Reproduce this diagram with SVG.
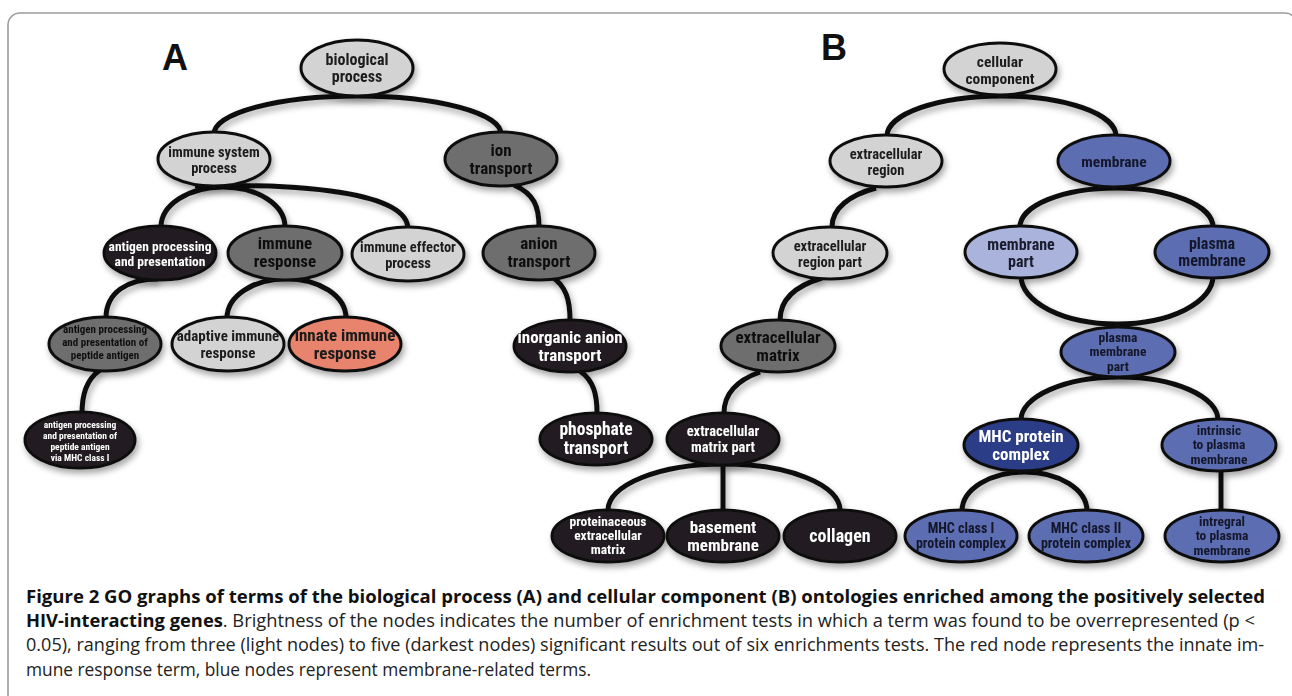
<svg xmlns="http://www.w3.org/2000/svg" width="1292" height="696" viewBox="0 0 1292 696">
<defs>
<filter id="sh" x="-20%" y="-20%" width="140%" height="160%">
<feDropShadow dx="2" dy="4" stdDeviation="3" flood-color="#000" flood-opacity="0.35"/>
</filter>
<style>
.frame{fill:none;stroke:#9c9c9c;stroke-width:1.6}
.node ellipse{stroke:#111;stroke-width:3}
.node text{font-family:"Liberation Sans Narrow","Arial Narrow","Roboto Condensed","DejaVu Sans Condensed",sans-serif;font-weight:bold;text-anchor:middle}
.light ellipse{fill:#d3d3d3}.light text{fill:#1e1e1e}
.mid ellipse{fill:#6e6e6e}.mid text{fill:#111}
.dark ellipse{fill:#231f20}.dark text{fill:#fff}
.red ellipse{fill:#e8836d}.red text{fill:#1a1a1a}
.blue ellipse{fill:#5b6db2}.blue text{fill:#14182a}
.lblue ellipse{fill:#a9b3db}.lblue text{fill:#1a1d2e}
.dblue ellipse{fill:#2b3c86}.dblue text{fill:#fff}
#connectors path{fill:none;stroke:#111;stroke-width:5}
.panel{font-family:"Liberation Sans",Arial,sans-serif;font-weight:bold;font-size:36px;fill:#111}
.cap{font-family:"Open Sans","Noto Sans",sans-serif;font-size:18px;fill:#222}
.cap .b{font-weight:bold;fill:#111}
</style>
</defs>
<rect width="1292" height="696" fill="#fff"/>
<rect class="frame" x="8" y="13" width="1289" height="700" rx="12"/>
<text class="panel" x="162" y="70">A</text>
<text class="panel" x="821" y="60">B</text>

<g id="connectors" filter="url(#sh)">
<path d="M214 134 A143 38 0 0 1 501 134"/>
<path d="M161 227 A62 40 0 0 1 285 227"/>
<path d="M195 186 C300 183 408 192 408 229"/>
<path d="M514 185 C534 194 539 206 539 227"/>
<path d="M552 277 C566 286 570 300 570 320"/>
<path d="M580 371 C594 381 597 395 597 413"/>
<path d="M227 318 A59 39 0 0 1 346 318"/>
<path d="M106 318 C106 292 128 279 158 279"/>
<path d="M100 370 C86 380 82 395 82 414"/>
<path d="M887 136 A114.5 40 0 0 1 1116 136"/>
<path d="M876 188 C850 195 832 208 832 227"/>
<path d="M1020 227 A96.5 39 0 0 1 1213 227"/>
<path d="M1021 276 A96 48 0 0 0 1213 276"/>
<path d="M822 278 C795 286 780 300 780 320"/>
<path d="M760 372 C735 381 724 395 724 413"/>
<path d="M1021 420 A98.5 43 0 0 1 1218 420"/>
<path d="M608 510 A116 46 0 0 1 840 510"/>
<path d="M723 462 L723 510"/>
<path d="M962 511 A62.5 39 0 0 1 1087 511"/>
<path d="M1221 470 L1221 511"/>
</g>

<g id="n_bp" class="node light" filter="url(#sh)"><ellipse cx="357" cy="68" rx="56" ry="28"/><text font-size="16"><tspan x="357" y="65">biological</tspan><tspan x="357" y="82">process</tspan></text></g>
<g id="n_isp" class="node light" filter="url(#sh)"><ellipse cx="214" cy="159" rx="56" ry="27"/><text font-size="14.5"><tspan x="214" y="157">immune system</tspan><tspan x="214" y="173">process</tspan></text></g>
<g id="n_ion" class="node mid" filter="url(#sh)"><ellipse cx="501" cy="159" rx="56" ry="27"/><text font-size="17"><tspan x="501" y="156">ion</tspan><tspan x="501" y="174">transport</tspan></text></g>
<g id="n_app" class="node dark" filter="url(#sh)"><ellipse cx="160" cy="253" rx="56" ry="27"/><text font-size="13.5"><tspan x="160" y="251">antigen processing</tspan><tspan x="160" y="266">and presentation</tspan></text></g>
<g id="n_ir" class="node mid" filter="url(#sh)"><ellipse cx="285" cy="253" rx="57" ry="27"/><text font-size="17"><tspan x="285" y="249">immune</tspan><tspan x="285" y="267">response</tspan></text></g>
<g id="n_iep" class="node light" filter="url(#sh)"><ellipse cx="408" cy="254" rx="56" ry="27"/><text font-size="14.5"><tspan x="408" y="252">immune effector</tspan><tspan x="408" y="268">process</tspan></text></g>
<g id="n_at" class="node mid" filter="url(#sh)"><ellipse cx="539" cy="253" rx="56" ry="27"/><text font-size="17"><tspan x="539" y="249">anion</tspan><tspan x="539" y="267">transport</tspan></text></g>
<g id="n_appa" class="node mid" filter="url(#sh)"><ellipse cx="105" cy="344" rx="56" ry="27"/><text font-size="11" style="fill:#111"><tspan x="105" y="333">antigen processing</tspan><tspan x="105" y="346">and presentation of</tspan><tspan x="105" y="359">peptide antigen</tspan></text></g>
<g id="n_air" class="node light" filter="url(#sh)"><ellipse cx="228" cy="344" rx="56" ry="27"/><text font-size="15"><tspan x="228" y="341">adaptive immune</tspan><tspan x="228" y="358">response</tspan></text></g>
<g id="n_iir" class="node red" filter="url(#sh)"><ellipse cx="345" cy="344" rx="56" ry="27"/><text font-size="17"><tspan x="345" y="341">innate immune</tspan><tspan x="345" y="359">response</tspan></text></g>
<g id="n_inorg" class="node dark" filter="url(#sh)"><ellipse cx="570" cy="346" rx="56" ry="26"/><text font-size="17"><tspan x="570" y="343">inorganic anion</tspan><tspan x="570" y="361">transport</tspan></text></g>
<g id="n_mhc1a" class="node dark" filter="url(#sh)"><ellipse cx="80" cy="440" rx="55" ry="28"/><text font-size="9.5"><tspan x="80" y="428">antigen processing</tspan><tspan x="80" y="439">and presentation of</tspan><tspan x="80" y="450">peptide antigen</tspan><tspan x="80" y="461">via MHC class I</tspan></text></g>
<g id="n_phos" class="node dark" filter="url(#sh)"><ellipse cx="596" cy="439" rx="56" ry="26"/><text font-size="17.5"><tspan x="596" y="435">phosphate</tspan><tspan x="596" y="454">transport</tspan></text></g>

<g id="n_cc" class="node light" filter="url(#sh)"><ellipse cx="1000" cy="69" rx="56" ry="26"/><text font-size="15.5"><tspan x="1000" y="67">cellular</tspan><tspan x="1000" y="84">component</tspan></text></g>
<g id="n_er" class="node light" filter="url(#sh)"><ellipse cx="886" cy="161" rx="56" ry="26"/><text font-size="14.5"><tspan x="886" y="159">extracellular</tspan><tspan x="886" y="175">region</tspan></text></g>
<g id="n_mem" class="node blue" filter="url(#sh)"><ellipse cx="1114" cy="161" rx="56" ry="26"/><text font-size="15.5"><tspan x="1114" y="167">membrane</tspan></text></g>
<g id="n_erp" class="node light" filter="url(#sh)"><ellipse cx="830" cy="253" rx="57" ry="26"/><text font-size="14.5"><tspan x="830" y="251">extracellular</tspan><tspan x="830" y="267">region part</tspan></text></g>
<g id="n_mp" class="node lblue" filter="url(#sh)"><ellipse cx="1021" cy="252" rx="56" ry="26"/><text font-size="16"><tspan x="1021" y="250">membrane</tspan><tspan x="1021" y="267">part</tspan></text></g>
<g id="n_pm" class="node blue" filter="url(#sh)"><ellipse cx="1212" cy="252" rx="57" ry="26"/><text font-size="16"><tspan x="1212" y="249">plasma</tspan><tspan x="1212" y="266">membrane</tspan></text></g>
<g id="n_em" class="node mid" filter="url(#sh)"><ellipse cx="778" cy="346" rx="57" ry="26"/><text font-size="17"><tspan x="778" y="343">extracellular</tspan><tspan x="778" y="361">matrix</tspan></text></g>
<g id="n_pmp" class="node blue" filter="url(#sh)"><ellipse cx="1118" cy="352" rx="57" ry="25"/><text font-size="13.5"><tspan x="1118" y="342">plasma</tspan><tspan x="1118" y="356">membrane</tspan><tspan x="1118" y="371">part</tspan></text></g>
<g id="n_emp" class="node dark" filter="url(#sh)"><ellipse cx="723" cy="439" rx="56" ry="26"/><text font-size="14.5"><tspan x="723" y="436">extracellular</tspan><tspan x="723" y="452">matrix part</tspan></text></g>
<g id="n_mhcpc" class="node dblue" filter="url(#sh)"><ellipse cx="1021" cy="445" rx="57" ry="26"/><text font-size="17"><tspan x="1021" y="442">MHC protein</tspan><tspan x="1021" y="460">complex</tspan></text></g>
<g id="n_ipm" class="node blue" filter="url(#sh)"><ellipse cx="1219" cy="445" rx="57" ry="26"/><text font-size="13.5"><tspan x="1219" y="435">intrinsic</tspan><tspan x="1219" y="449">to plasma</tspan><tspan x="1219" y="464">membrane</tspan></text></g>
<g id="n_pem" class="node dark" filter="url(#sh)"><ellipse cx="608" cy="536" rx="56" ry="26"/><text font-size="13.5"><tspan x="608" y="526">proteinaceous</tspan><tspan x="608" y="540">extracellular</tspan><tspan x="608" y="554">matrix</tspan></text></g>
<g id="n_bm" class="node dark" filter="url(#sh)"><ellipse cx="723" cy="536" rx="56" ry="26"/><text font-size="17"><tspan x="723" y="533">basement</tspan><tspan x="723" y="551">membrane</tspan></text></g>
<g id="n_col" class="node dark" filter="url(#sh)"><ellipse cx="840" cy="536" rx="56" ry="26"/><text font-size="18"><tspan x="840" y="542">collagen</tspan></text></g>
<g id="n_mhcI" class="node blue" filter="url(#sh)"><ellipse cx="961" cy="536" rx="56" ry="26"/><text font-size="14"><tspan x="961" y="533">MHC class I</tspan><tspan x="961" y="548">protein complex</tspan></text></g>
<g id="n_mhcII" class="node blue" filter="url(#sh)"><ellipse cx="1086" cy="536" rx="57" ry="26"/><text font-size="14"><tspan x="1086" y="533">MHC class II</tspan><tspan x="1086" y="548">protein complex</tspan></text></g>
<g id="n_int" class="node blue" filter="url(#sh)"><ellipse cx="1222" cy="536" rx="57" ry="26"/><text font-size="13.5"><tspan x="1222" y="526">intregral</tspan><tspan x="1222" y="540">to plasma</tspan><tspan x="1222" y="555">membrane</tspan></text></g>

<g id="caption">
<text class="cap" x="26" y="603" textLength="1239" lengthAdjust="spacingAndGlyphs"><tspan class="b">Figure 2 GO graphs of terms of the biological process (A) and cellular component (B) ontologies enriched among the positively selected</tspan></text>
<text class="cap" x="26" y="627" textLength="1229" lengthAdjust="spacingAndGlyphs"><tspan class="b">HIV-interacting genes</tspan>. Brightness of the nodes indicates the number of enrichment tests in which a term was found to be overrepresented (p &lt;</text>
<text class="cap" x="26" y="651" textLength="1238" lengthAdjust="spacingAndGlyphs">0.05), ranging from three (light nodes) to five (darkest nodes) significant results out of six enrichments tests. The red node represents the innate im-</text>
<text class="cap" x="26" y="676" textLength="565" lengthAdjust="spacingAndGlyphs">mune response term, blue nodes represent membrane-related terms.</text>
</g>
</svg>
